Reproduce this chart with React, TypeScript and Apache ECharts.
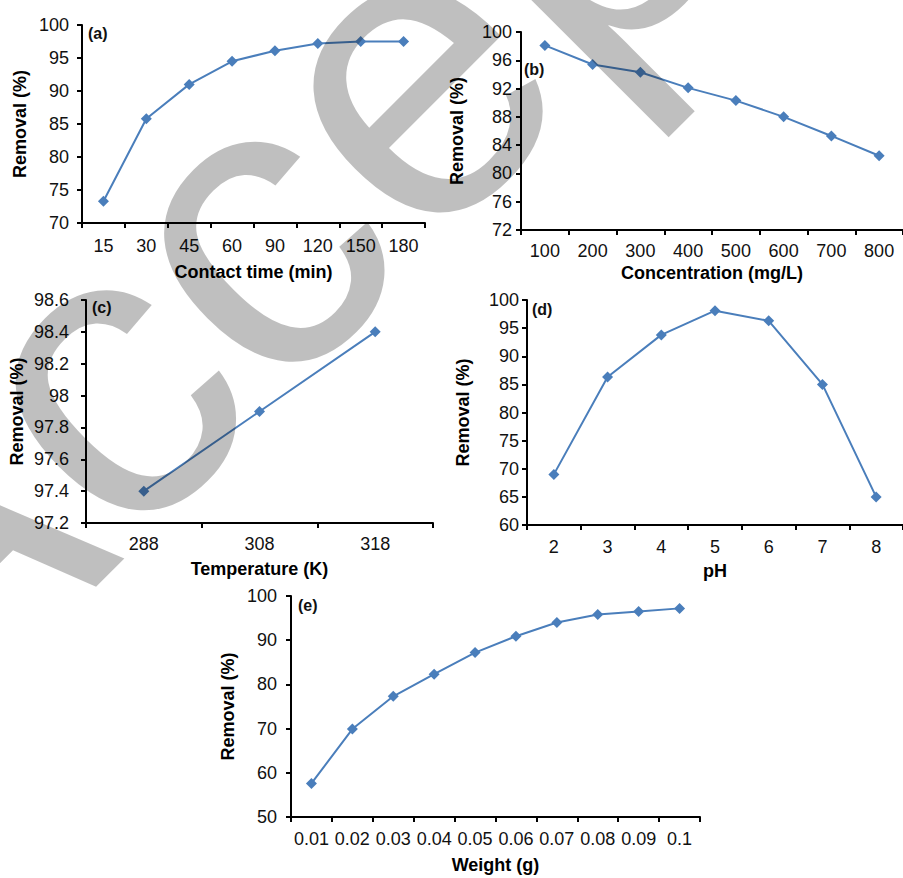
import React, { useEffect, useRef } from "react";
import * as echarts from "echarts";

// ---- data ----
const timeCats = ["15", "30", "45", "60", "90", "120", "150", "180"];
const timeRemoval = [73.3, 85.8, 91.0, 94.5, 96.1, 97.2, 97.5, 97.5];

const concCats = ["100", "200", "300", "400", "500", "600", "700", "800"];
const concRemoval = [98.1, 95.4, 94.3, 92.1, 90.3, 88.0, 85.3, 82.5];

const tempCats = ["288", "308", "318"];
const tempRemoval = [97.4, 97.9, 98.4];

const phCats = ["2", "3", "4", "5", "6", "7", "8"];
const phRemoval = [69.0, 86.3, 93.8, 98.1, 96.3, 85.0, 65.0];

const weightCats = ["0.01", "0.02", "0.03", "0.04", "0.05", "0.06", "0.07", "0.08", "0.09", "0.1"];
const weightRemoval = [57.6, 69.9, 77.3, 82.3, 87.2, 90.9, 94.0, 95.8, 96.5, 97.2];

const panelTags = ["(a)", "(b)", "(c)", "(d)", "(e)"];
const xNames = ["Contact time (min)", "Concentration (mg/L)", "Temperature (K)", "pH", "Weight (g)"];
const yName = "Removal (%)";

const FONT = '"Liberation Sans", Arial, sans-serif';
const LINE = "#4A7EBB";

type Panel = {
  cats: string[];
  vals: number[];
  min: number;
  max: number;
  interval: number;
  grid: { left: number; top: number; width: number; height: number };
  yMargin: number;
  xMargin: number;
  xGap: number;
  yGap: number;
  tag: [number, number];
};

const panels: Panel[] = [
  { cats: timeCats, vals: timeRemoval, min: 70, max: 100, interval: 5,
    grid: { left: 82, top: 25, width: 343, height: 198 }, yMargin: 13, xMargin: 14, xGap: 40, yGap: 53, tag: [88, 33] },
  { cats: concCats, vals: concRemoval, min: 72, max: 100, interval: 4,
    grid: { left: 521, top: 32, width: 386, height: 198 }, yMargin: 9, xMargin: 12, xGap: 34, yGap: 55, tag: [524, 69] },
  { cats: tempCats, vals: tempRemoval, min: 97.2, max: 98.6, interval: 0.2,
    grid: { left: 86, top: 300, width: 347, height: 223 }, yMargin: 17, xMargin: 12, xGap: 37, yGap: 60, tag: [92, 307] },
  { cats: phCats, vals: phRemoval, min: 60, max: 100, interval: 5,
    grid: { left: 527, top: 300, width: 384, height: 225 }, yMargin: 8, xMargin: 13, xGap: 37, yGap: 55, tag: [532, 309] },
  { cats: weightCats, vals: weightRemoval, min: 50, max: 100, interval: 10,
    grid: { left: 291, top: 596, width: 409, height: 221 }, yMargin: 14, xMargin: 13, xGap: 39, yGap: 54, tag: [298, 605] },
];

export default function App() {
  const ref = useRef<HTMLDivElement>(null);
  useEffect(() => {
    if (!ref.current) return;
    const chart = echarts.init(ref.current, undefined, { renderer: "svg" });
    const axisLine = { show: true, lineStyle: { color: "#000", width: 2 } };
    const axisTick = { show: true, inside: false, length: 5, lineStyle: { color: "#000", width: 2 } };
    const option: any = {
      animation: false,
      backgroundColor: "#fff",
      grid: panels.map((p) => ({ ...p.grid, containLabel: false })),
      xAxis: panels.map((p, i) => ({
        type: "category",
        gridIndex: i,
        data: p.cats,
        boundaryGap: true,
        axisLine,
        axisTick: { ...axisTick, alignWithLabel: false, interval: 0 },
        axisLabel: { interval: 0, margin: p.xMargin, color: "#111", fontSize: 18, fontFamily: FONT },
        splitLine: { show: false },
        name: xNames[i],
        nameLocation: "middle",
        nameGap: p.xGap,
        nameTextStyle: { color: "#000", fontSize: 18, fontWeight: "bold", fontFamily: FONT },
      })),
      yAxis: panels.map((p, i) => ({
        type: "value",
        gridIndex: i,
        min: p.min,
        max: p.max,
        interval: p.interval,
        axisLine,
        axisTick,
        axisLabel: { margin: p.yMargin, color: "#111", fontSize: 18, fontFamily: FONT },
        splitLine: { show: false },
        name: yName,
        nameLocation: "middle",
        nameGap: p.yGap,
        nameTextStyle: { color: "#000", fontSize: 18, fontWeight: "bold", fontFamily: FONT },
      })),
      series: panels.map((p, i) => ({
        type: "line",
        xAxisIndex: i,
        yAxisIndex: i,
        data: p.vals,
        symbol: "diamond",
        symbolSize: 11,
        lineStyle: { color: LINE, width: 2 },
        itemStyle: { color: LINE },
      })),
      graphic: [
        ...panels.map((p, i) => ({
          type: "text",
          x: p.tag[0],
          y: p.tag[1],
          z: 50,
          style: {
            text: panelTags[i],
            font: `bold 16px ${FONT}`,
            fill: "#111",
            textAlign: "left",
            textVerticalAlign: "middle",
          },
        })),
        {
          type: "text",
          x: -176,
          y: 653,
          rotation: Math.PI / 4,
          z: 100,
          silent: true,
          style: {
            text: "Accepted",
            font: `420px ${FONT}`,
            fill: "rgba(0,0,0,0.25)",
            textAlign: "left",
            textVerticalAlign: "middle",
          },
        },
      ],
    };
    chart.setOption(option);
    return () => chart.dispose();
  }, []);
  return (
    <div
      ref={ref}
      style={{ position: "fixed", left: 0, top: 0, width: 903, height: 878, background: "#fff" }}
    />
  );
}
